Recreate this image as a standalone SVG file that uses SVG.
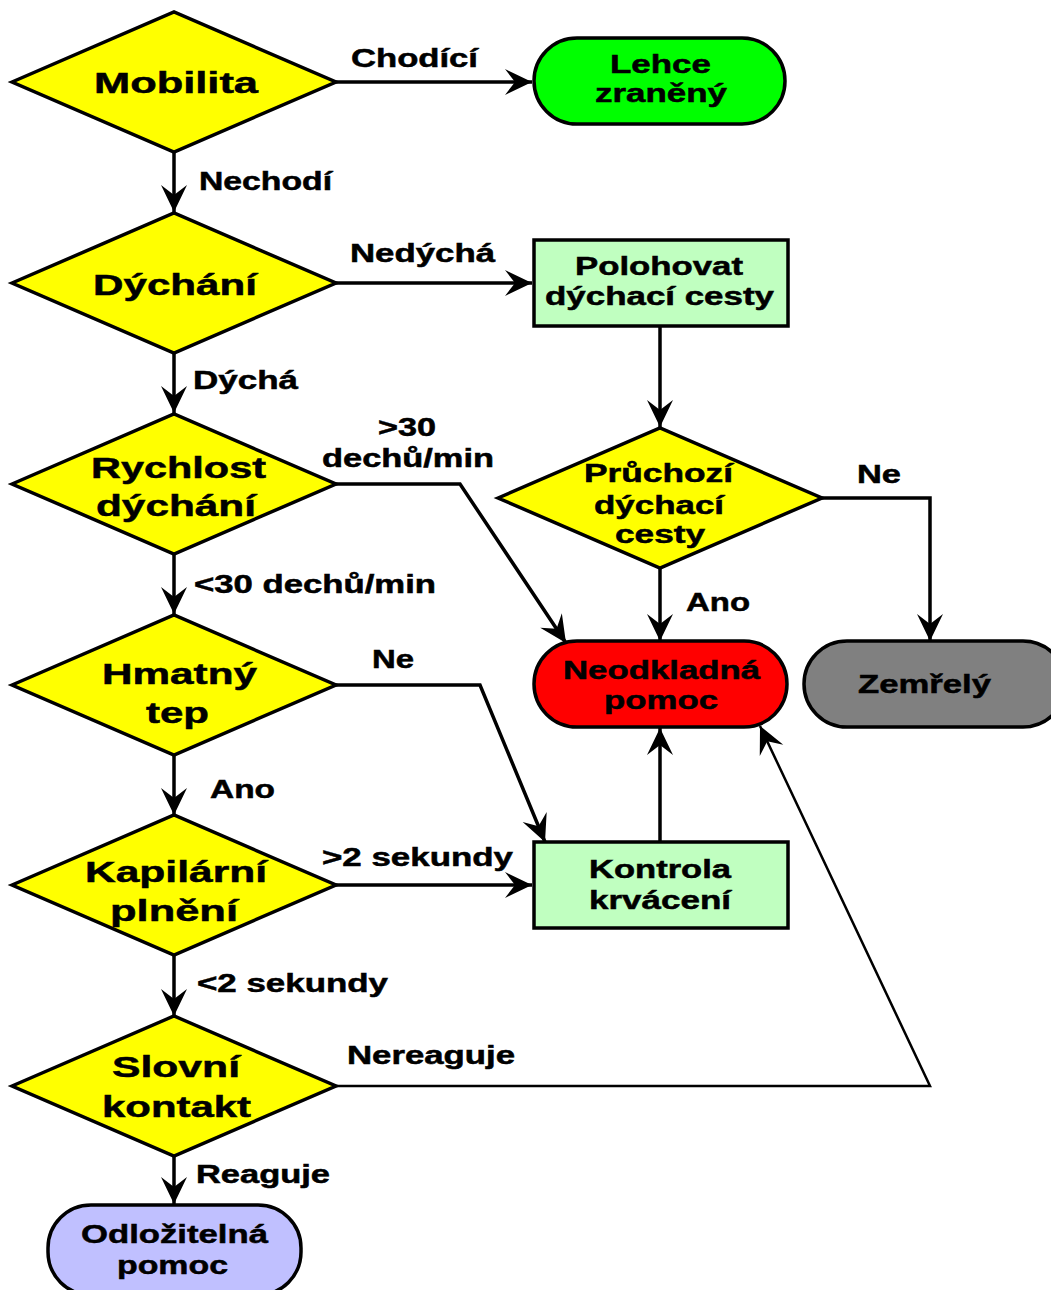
<svg xmlns="http://www.w3.org/2000/svg" width="1051" height="1290" viewBox="0 0 1051 1290">
<style>
.shape{stroke:#000;stroke-width:3.5;stroke-linejoin:miter}
.dia{fill:#ffff00}
.t{font-family:"Liberation Sans",Arial,sans-serif;font-weight:bold;fill:#000;stroke:#000;stroke-width:0.5}
.big{font-size:30px}
.sm{font-size:25px}
.c{fill:none;stroke:#000;stroke-width:3.5;marker-end:url(#ah)}
.thin{stroke-width:2.5}
</style>
<defs>
<marker id="ah" viewBox="-28 -15 30 30" refX="0" refY="0" markerWidth="30" markerHeight="30" markerUnits="userSpaceOnUse" orient="auto">
<path d="M0,0 L-27,-13 L-17,0 L-27,13 Z" fill="#000"/>
</marker>
</defs>
<rect width="1051" height="1290" fill="#fff"/>

<g id="connectors">
<path class="c" d="M336,82 H532"/>
<path class="c" d="M174,152 V212"/>
<path class="c" d="M336,283 H532"/>
<path class="c" d="M174,353 V413"/>
<path class="c" d="M660,326 V427"/>
<path class="c" d="M336,484 H460 L566,643"/>
<path class="c" d="M174,554 V614"/>
<path class="c" d="M822,498 H930 V641"/>
<path class="c" d="M660,568 V641"/>
<path class="c" d="M336,685 H480 L545,842"/>
<path class="c" d="M174,755 V815"/>
<path class="c" d="M336,885 H532"/>
<path class="c" d="M660,842 V728"/>
<path class="c" d="M174,955 V1016"/>
<path class="c thin" d="M336,1086 H930 L760,726"/>
<path class="c" d="M174,1156 V1204"/>
</g>

<g id="edge-labels">
<text class="t sm" x="351" y="67" textLength="127" lengthAdjust="spacingAndGlyphs">Chodící</text>
<text class="t sm" x="199" y="190" textLength="133" lengthAdjust="spacingAndGlyphs">Nechodí</text>
<text class="t sm" x="350" y="262" textLength="145" lengthAdjust="spacingAndGlyphs">Nedýchá</text>
<text class="t sm" x="193" y="389" textLength="105" lengthAdjust="spacingAndGlyphs">Dýchá</text>
<text class="t sm" x="378" y="436" textLength="58" lengthAdjust="spacingAndGlyphs">&gt;30</text>
<text class="t sm" x="322" y="467" textLength="172" lengthAdjust="spacingAndGlyphs">dechů/min</text>
<text class="t sm" x="857" y="483" textLength="44" lengthAdjust="spacingAndGlyphs">Ne</text>
<text class="t sm" x="194" y="593" textLength="242" lengthAdjust="spacingAndGlyphs">&lt;30 dechů/min</text>
<text class="t sm" x="686" y="611" textLength="64" lengthAdjust="spacingAndGlyphs">Ano</text>
<text class="t sm" x="372" y="668" textLength="42" lengthAdjust="spacingAndGlyphs">Ne</text>
<text class="t sm" x="210" y="798" textLength="65" lengthAdjust="spacingAndGlyphs">Ano</text>
<text class="t sm" x="322" y="866" textLength="191" lengthAdjust="spacingAndGlyphs">&gt;2 sekundy</text>
<text class="t sm" x="197" y="992" textLength="191" lengthAdjust="spacingAndGlyphs">&lt;2 sekundy</text>
<text class="t sm" x="347" y="1064" textLength="168" lengthAdjust="spacingAndGlyphs">Nereaguje</text>
<text class="t sm" x="196" y="1183" textLength="134" lengthAdjust="spacingAndGlyphs">Reaguje</text>
</g>

<g id="mobilita">
<polygon class="shape dia" points="12,82 174,12 336,82 174,152"/>
<text class="t big" x="94" y="93" textLength="164" lengthAdjust="spacingAndGlyphs">Mobilita</text>
</g>
<g id="lehce">
<rect class="shape" x="534" y="38" width="251" height="86" rx="43" fill="#00ff00"/>
<text class="t sm" x="610" y="73" textLength="101" lengthAdjust="spacingAndGlyphs">Lehce</text>
<text class="t sm" x="595" y="102" textLength="132" lengthAdjust="spacingAndGlyphs">zraněný</text>
</g>
<g id="dychani">
<polygon class="shape dia" points="12,283 174,213 336,283 174,353"/>
<text class="t big" x="93" y="295" textLength="164" lengthAdjust="spacingAndGlyphs">Dýchání</text>
</g>
<g id="polohovat">
<rect class="shape" x="534" y="240" width="254" height="86" fill="#c0ffc0"/>
<text class="t sm" x="575" y="275" textLength="168" lengthAdjust="spacingAndGlyphs">Polohovat</text>
<text class="t sm" x="545" y="305" textLength="229" lengthAdjust="spacingAndGlyphs">dýchací cesty</text>
</g>
<g id="rychlost">
<polygon class="shape dia" points="12,484 174,414 336,484 174,554"/>
<text class="t big" x="91" y="478" textLength="175" lengthAdjust="spacingAndGlyphs">Rychlost</text>
<text class="t big" x="96" y="516" textLength="160" lengthAdjust="spacingAndGlyphs">dýchání</text>
</g>
<g id="pruchozi">
<polygon class="shape dia" points="498,498 660,428 822,498 660,568"/>
<text class="t sm" x="584" y="482" textLength="149" lengthAdjust="spacingAndGlyphs">Průchozí</text>
<text class="t sm" x="594" y="514" textLength="130" lengthAdjust="spacingAndGlyphs">dýchací</text>
<text class="t sm" x="615" y="543" textLength="90" lengthAdjust="spacingAndGlyphs">cesty</text>
</g>
<g id="neodkladna">
<rect class="shape" x="534" y="641" width="253" height="86" rx="43" fill="#ff0000"/>
<text class="t sm" x="563" y="679" textLength="197" lengthAdjust="spacingAndGlyphs">Neodkladná</text>
<text class="t sm" x="604" y="709" textLength="114" lengthAdjust="spacingAndGlyphs">pomoc</text>
</g>
<g id="zemrely">
<rect class="shape" x="804" y="641" width="262" height="86" rx="43" fill="#808080"/>
<text class="t sm" x="858" y="693" textLength="133" lengthAdjust="spacingAndGlyphs">Zemřelý</text>
</g>
<g id="hmatny">
<polygon class="shape dia" points="12,685 174,615 336,685 174,755"/>
<text class="t big" x="102" y="684" textLength="155" lengthAdjust="spacingAndGlyphs">Hmatný</text>
<text class="t big" x="146" y="723" textLength="63" lengthAdjust="spacingAndGlyphs">tep</text>
</g>
<g id="kapilarni">
<polygon class="shape dia" points="12,885 174,815 336,885 174,955"/>
<text class="t big" x="85" y="882" textLength="182" lengthAdjust="spacingAndGlyphs">Kapilární</text>
<text class="t big" x="110" y="921" textLength="128" lengthAdjust="spacingAndGlyphs">plnění</text>
</g>
<g id="kontrola">
<rect class="shape" x="534" y="842" width="254" height="86" fill="#c0ffc0"/>
<text class="t sm" x="589" y="878" textLength="142" lengthAdjust="spacingAndGlyphs">Kontrola</text>
<text class="t sm" x="589" y="909" textLength="142" lengthAdjust="spacingAndGlyphs">krvácení</text>
</g>
<g id="slovni">
<polygon class="shape dia" points="12,1086 174,1016 336,1086 174,1156"/>
<text class="t big" x="112" y="1077" textLength="128" lengthAdjust="spacingAndGlyphs">Slovní</text>
<text class="t big" x="102" y="1117" textLength="149" lengthAdjust="spacingAndGlyphs">kontakt</text>
</g>
<g id="odlozitelna">
<rect class="shape" x="48" y="1205" width="253" height="90" rx="43" fill="#c0c0ff"/>
<text class="t sm" x="81" y="1243" textLength="187" lengthAdjust="spacingAndGlyphs">Odložitelná</text>
<text class="t sm" x="117" y="1274" textLength="111" lengthAdjust="spacingAndGlyphs">pomoc</text>
</g>
</svg>
